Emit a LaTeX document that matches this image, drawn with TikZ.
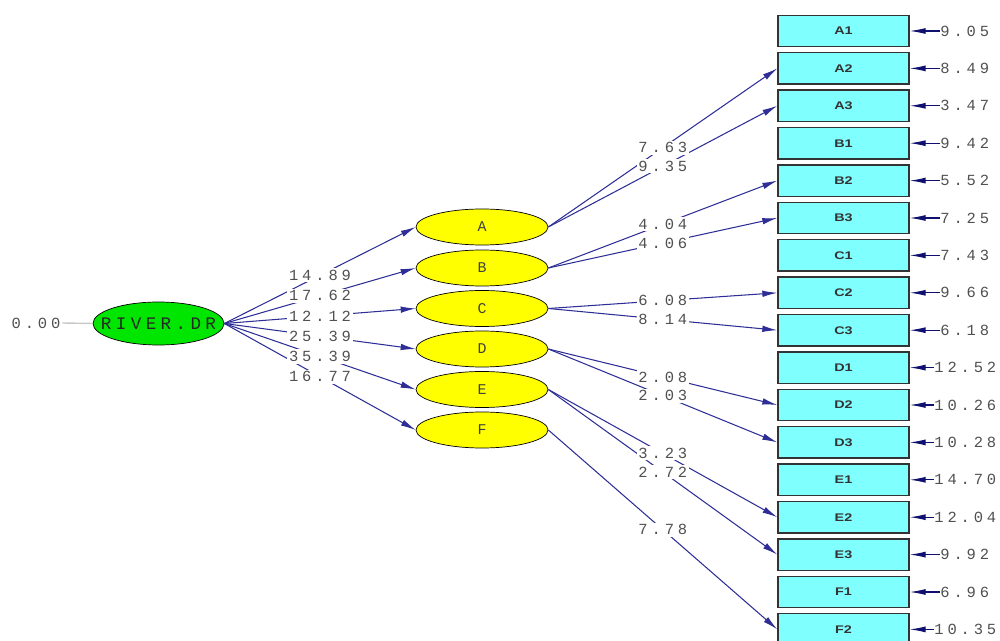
\documentclass[tikz,border=0pt]{standalone}
\usepackage{fontspec}
\usetikzlibrary{shapes.geometric,arrows.meta}
\newfontfamily\numfont[LetterSpace=25]{Liberation Mono}
\newfontfamily\monofont{Liberation Mono}
\newfontfamily\boxfont[FakeStretch=1.3]{Liberation Sans}
\definecolor{pathblue}{HTML}{2E2E96}
\definecolor{errblue}{HTML}{101070}
\definecolor{latgreen}{HTML}{00E600}
\definecolor{latyellow}{HTML}{FFFF00}
\definecolor{obscyan}{HTML}{80FFFF}
\definecolor{numgray}{HTML}{505050}
\tikzset{
riverlat/.style={ellipse,draw=black,fill=latgreen,
minimum width=2.62cm,minimum height=0.86cm,inner sep=0pt},
latvar/.style={ellipse,draw=black,fill=latyellow,
minimum width=2.64cm,minimum height=0.72cm,inner sep=0pt,
font=\monofont\fontsize{8.5}{10}\selectfont,text=black!75},
obsbox/.style={rectangle,draw=black!80,line width=0.8pt,fill=obscyan,
minimum width=2.62cm,minimum height=0.63cm,inner sep=0pt,
font=\boxfont\bfseries\fontsize{6.3}{7}\selectfont,text=black!80},
loading/.style={draw=pathblue,line width=0.6pt,-{Latex[length=0.3cm,width=0.13cm]}},
errarrow/.style={draw=errblue,line width=0.6pt,-{Latex[length=0.32cm,width=0.12cm]}},
numlbl/.style={fill=white,inner sep=1pt,text=numgray,
font=\numfont\fontsize{8.8}{10}\selectfont},
errlbl/.style={anchor=west,inner sep=0pt,text=numgray,
font=\numfont\fontsize{8.8}{10}\selectfont}
}
\begin{document}
\begin{tikzpicture}[x=0.02cm,y=-0.02cm]
\useasboundingbox (0,0) rectangle (1000,641);
% common factor
\node[riverlat,
label={[font=\numfont\fontsize{10}{12}\selectfont,text=black!85]center:RIVER.DR}]
(riv) at (158.5,323.5) {};
\node[numlbl,fill=none] (rivvar) at (36,323) {0.00};
\draw[black!22,line width=0.8pt] (rivvar.east) -- (riv.west);
% latent factors
\node[latvar] (lA) at (482,227) {A};
\node[latvar] (lB) at (482,268) {B};
\node[latvar] (lC) at (482,308.5) {C};
\node[latvar] (lD) at (482,349) {D};
\node[latvar] (lE) at (482,389.5) {E};
\node[latvar] (lF) at (482,430) {F};
% indicators
\node[obsbox] (A1) at (843.5,31) {A1};
\node[obsbox] (A2) at (843.5,68.4) {A2};
\node[obsbox] (A3) at (843.5,105.8) {A3};
\node[obsbox] (B1) at (843.5,143.2) {B1};
\node[obsbox] (B2) at (843.5,180.6) {B2};
\node[obsbox] (B3) at (843.5,218) {B3};
\node[obsbox] (C1) at (843.5,255.4) {C1};
\node[obsbox] (C2) at (843.5,292.8) {C2};
\node[obsbox] (C3) at (843.5,330.2) {C3};
\node[obsbox] (D1) at (843.5,367.6) {D1};
\node[obsbox] (D2) at (843.5,405) {D2};
\node[obsbox] (D3) at (843.5,442.4) {D3};
\node[obsbox] (E1) at (843.5,479.8) {E1};
\node[obsbox] (E2) at (843.5,517.2) {E2};
\node[obsbox] (E3) at (843.5,554.6) {E3};
\node[obsbox] (F1) at (843.5,592) {F1};
\node[obsbox] (F2) at (843.5,629.4) {F2};
% error terms
\node[errlbl] (eA1) at (940,31) {9.05};
\node[errlbl] (eA2) at (940,68.4) {8.49};
\node[errlbl] (eA3) at (940,105.8) {3.47};
\node[errlbl] (eB1) at (940,143.2) {9.42};
\node[errlbl] (eB2) at (940,180.6) {5.52};
\node[errlbl] (eB3) at (940,218) {7.25};
\node[errlbl] (eC1) at (940,255.4) {7.43};
\node[errlbl] (eC2) at (940,292.8) {9.66};
\node[errlbl] (eC3) at (940,330.2) {6.18};
\node[errlbl] (eD1) at (934,367.6) {12.52};
\node[errlbl] (eD2) at (934,405) {10.26};
\node[errlbl] (eD3) at (934,442.4) {10.28};
\node[errlbl] (eE1) at (934,479.8) {14.70};
\node[errlbl] (eE2) at (934,517.2) {12.04};
\node[errlbl] (eE3) at (940,554.6) {9.92};
\node[errlbl] (eF1) at (940,592) {6.96};
\node[errlbl] (eF2) at (934,629.4) {10.35};
\draw[errarrow] (eA1.west) -- (A1.east);
\draw[errarrow] (eA2.west) -- (A2.east);
\draw[errarrow] (eA3.west) -- (A3.east);
\draw[errarrow] (eB1.west) -- (B1.east);
\draw[errarrow] (eB2.west) -- (B2.east);
\draw[errarrow] (eB3.west) -- (B3.east);
\draw[errarrow] (eC1.west) -- (C1.east);
\draw[errarrow] (eC2.west) -- (C2.east);
\draw[errarrow] (eC3.west) -- (C3.east);
\draw[errarrow] (eD1.west) -- (D1.east);
\draw[errarrow] (eD2.west) -- (D2.east);
\draw[errarrow] (eD3.west) -- (D3.east);
\draw[errarrow] (eE1.west) -- (E1.east);
\draw[errarrow] (eE2.west) -- (E2.east);
\draw[errarrow] (eE3.west) -- (E3.east);
\draw[errarrow] (eF1.west) -- (F1.east);
\draw[errarrow] (eF2.west) -- (F2.east);
% paths from the common factor
\draw[loading] (riv.east) -- (lA.west);
\draw[loading] (riv.east) -- (lB.west);
\draw[loading] (riv.east) -- (lC.west);
\draw[loading] (riv.east) -- (lD.west);
\draw[loading] (riv.east) -- (lE.west);
\draw[loading] (riv.east) -- (lF.west);
% loadings
\draw[loading] (lA.east) -- (A2.west);
\draw[loading] (lA.east) -- (A3.west);
\draw[loading] (lB.east) -- (B2.west);
\draw[loading] (lB.east) -- (B3.west);
\draw[loading] (lC.east) -- (C2.west);
\draw[loading] (lC.east) -- (C3.west);
\draw[loading] (lD.east) -- (D2.west);
\draw[loading] (lD.east) -- (D3.west);
\draw[loading] (lE.east) -- (E2.west);
\draw[loading] (lE.east) -- (E3.west);
\draw[loading] (lF.east) -- (F2.west);
% t-values, set over the lines
\path (riv.east) -- (lA.west) node[numlbl,midway] {14.89};
\path (riv.east) -- (lB.west) node[numlbl,midway] {17.62};
\path (riv.east) -- (lC.west) node[numlbl,midway] {12.12};
\path (riv.east) -- (lD.west) node[numlbl,midway] {25.39};
\path (riv.east) -- (lE.west) node[numlbl,midway] {35.39};
\path (riv.east) -- (lF.west) node[numlbl,midway] {16.77};
\path (lA.east) -- (A2.west) node[numlbl,midway] {7.63};
\path (lA.east) -- (A3.west) node[numlbl,midway] {9.35};
\path (lB.east) -- (B2.west) node[numlbl,midway] {4.04};
\path (lB.east) -- (B3.west) node[numlbl,midway] {4.06};
\path (lC.east) -- (C2.west) node[numlbl,midway] {6.08};
\path (lC.east) -- (C3.west) node[numlbl,midway] {8.14};
\path (lD.east) -- (D2.west) node[numlbl,midway] {2.08};
\path (lD.east) -- (D3.west) node[numlbl,midway] {2.03};
\path (lE.east) -- (E2.west) node[numlbl,midway] {3.23};
\path (lE.east) -- (E3.west) node[numlbl,midway] {2.72};
\path (lF.east) -- (F2.west) node[numlbl,midway] {7.78};
\end{tikzpicture}
\end{document}
